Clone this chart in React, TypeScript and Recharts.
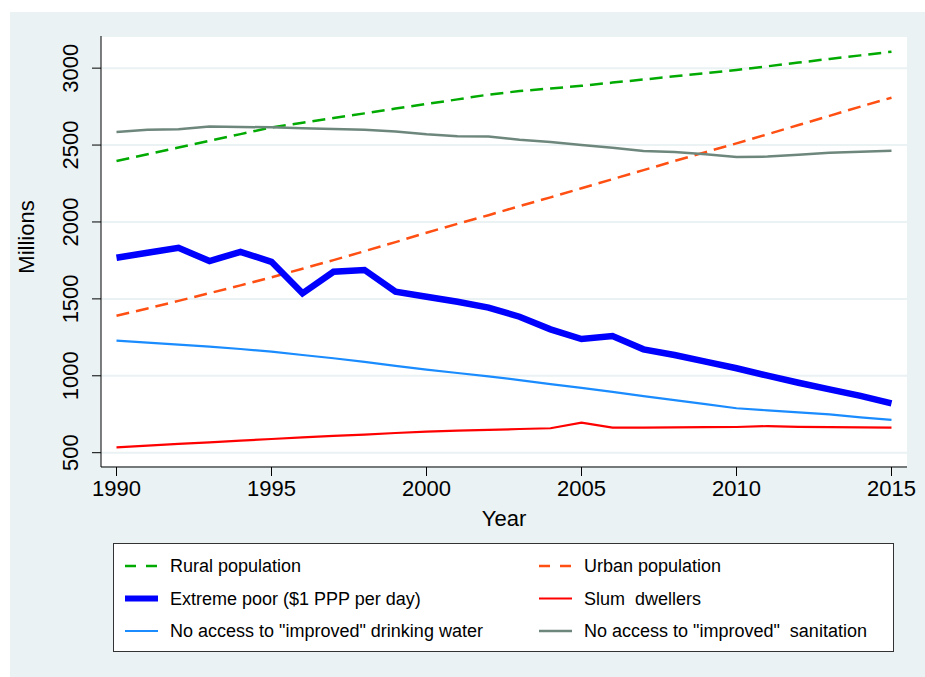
import React from 'react';
import { LineChart, Line, XAxis, YAxis, CartesianGrid, Legend } from 'recharts';

// values (millions of people)
const years = [
  1990, 1991, 1992, 1993, 1994, 1995, 1996, 1997, 1998, 1999, 2000, 2001, 2002,
  2003, 2004, 2005, 2006, 2007, 2008, 2009, 2010, 2011, 2012, 2013, 2014, 2015,
];
const rural = [
  2396, 2440, 2484, 2528, 2571, 2615, 2645, 2676, 2706, 2737, 2767, 2797, 2828,
  2851, 2868, 2885, 2906, 2926, 2947, 2967, 2988, 3012, 3036, 3060, 3083, 3107,
];
const urban = [
  1390, 1438, 1487, 1537, 1588, 1640, 1696, 1752, 1810, 1869, 1930, 1988, 2044,
  2103, 2160, 2219, 2278, 2337, 2396, 2454, 2511, 2570, 2630, 2690, 2750, 2808,
];
const extremePoor = [
  1767, 1800, 1832, 1746, 1806, 1741, 1536, 1676, 1688, 1547, 1514, 1481, 1443,
  1384, 1302, 1239, 1258, 1172, 1135, 1092, 1049, 1001, 955, 912, 869, 821,
];
const slum = [
  535, 546, 557, 567, 578, 589, 599, 609, 618, 628, 637, 643, 648,
  654, 659, 695, 663, 663, 665, 666, 667, 673, 668, 666, 665, 663,
];
const water = [
  1228, 1216, 1203, 1190, 1174, 1157, 1135, 1114, 1090, 1065, 1040, 1018, 996,
  972, 946, 922, 895, 868, 842, 816, 789, 775, 762, 749, 730, 713,
];
const sanitation = [
  2585, 2600, 2603, 2620, 2618, 2615, 2610, 2605, 2600, 2588, 2570, 2558, 2555,
  2535, 2520, 2500, 2483, 2462, 2455, 2440, 2422, 2425, 2437, 2450, 2457, 2463,
];

const xTicks = [1990, 1995, 2000, 2005, 2010, 2015];
const yTicks = [500, 1000, 1500, 2000, 2500, 3000];

const data = years.map((year, i) => ({
  year,
  rural: rural[i],
  urban: urban[i],
  extremePoor: extremePoor[i],
  slum: slum[i],
  water: water[i],
  sanitation: sanitation[i],
}));

const FONT = '"Liberation Sans", Arial, Helvetica, sans-serif';
const BG = '#eaf2f3';

const series = [
  { key: 'rural', name: 'Rural population', color: '#00aa00', width: 2.5, dash: '13 7' },
  { key: 'urban', name: 'Urban population', color: '#ff4f12', width: 2.5, dash: '13 7' },
  { key: 'extremePoor', name: 'Extreme poor ($1 PPP per day)', color: '#0000ff', width: 6.5, dash: undefined },
  { key: 'slum', name: 'Slum  dwellers', color: '#ff0000', width: 2.2, dash: undefined },
  { key: 'water', name: 'No access to "improved" drinking water', color: '#1a8cff', width: 2.2, dash: undefined },
  { key: 'sanitation', name: 'No access to "improved"  sanitation', color: '#6e877d', width: 2.5, dash: undefined },
];

const XTick = ({ x, y, payload }: any) => (
  <text x={x} y={y + 18} textAnchor="middle" fontSize={22} fontFamily={FONT} fill="#000">
    {payload.value}
  </text>
);

const YTick = ({ y, payload }: any) => (
  <text
    x={78}
    y={y}
    transform={`rotate(-90 78 ${y})`}
    textAnchor="middle"
    fontSize={22}
    fontFamily={FONT}
    fill="#000"
  >
    {payload.value}
  </text>
);

const LegendBox = () => (
  <svg width={781} height={109} style={{ display: 'block' }}>
    <rect x={0.5} y={0.5} width={780} height={108} fill="#fff" stroke="#333" strokeWidth={1} />
    {series.map((s, i) => {
      const col = i % 2;
      const row = Math.floor(i / 2);
      const cy = 23 + row * 32.5;
      const x0 = col === 0 ? 12 : 426;
      return (
        <g key={s.key}>
          <line
            x1={x0}
            x2={x0 + 33}
            y1={cy}
            y2={cy}
            stroke={s.color}
            strokeWidth={s.key === 'extremePoor' ? 6 : s.width}
            strokeDasharray={s.dash ? '11 10' : undefined}
          />
          <text
            x={x0 + 45}
            y={cy + 6}
            fontSize={18}
            fontFamily={FONT}
            fill="#000"
            style={{ whiteSpace: 'pre' }}
          >
            {s.name}
          </text>
        </g>
      );
    })}
  </svg>
);

export default function App() {
  return (
    <div style={{ position: 'absolute', left: 0, top: 0, width: 925, height: 677, background: '#fff' }}>
      <div style={{ position: 'absolute', left: 10, top: 12, width: 915, height: 665, background: BG }} />
      <div style={{ position: 'absolute', left: 0, top: 0 }}>
        <LineChart width={925} height={677} data={data} margin={{ top: 36, right: 18, bottom: 150, left: 21 }}>
          <CartesianGrid vertical={false} stroke={BG} strokeWidth={2} fill="#fff" />
          <XAxis
            dataKey="year"
            type="number"
            domain={[1989.5, 2015.5]}
            ticks={xTicks}
            interval={0}
            height={60}
            tickSize={9}
            tick={<XTick />}
            axisLine={{ stroke: '#000', strokeWidth: 1 }}
            tickLine={{ stroke: '#000', strokeWidth: 1 }}
            label={({ viewBox }: any) => (
              <text
                x={viewBox.x + viewBox.width / 2}
                y={526}
                textAnchor="middle"
                fontSize={22}
                fontFamily={FONT}
                fill="#000"
              >
                Year
              </text>
            )}
          />
          <YAxis
            type="number"
            domain={[407, 3209]}
            ticks={yTicks}
            interval={0}
            width={80}
            tickSize={9}
            tick={<YTick />}
            axisLine={{ stroke: '#000', strokeWidth: 1 }}
            tickLine={{ stroke: '#000', strokeWidth: 1 }}
            label={() => (
              <text
                x={34}
                y={237}
                transform="rotate(-90 34 237)"
                textAnchor="middle"
                fontSize={22}
                fontFamily={FONT}
                fill="#000"
              >
                Millions
              </text>
            )}
          />
          {series.map((s) => (
            <Line
              key={s.key}
              type="linear"
              dataKey={s.key}
              name={s.name}
              stroke={s.color}
              strokeWidth={s.width}
              strokeDasharray={s.dash}
              dot={false}
              activeDot={false}
              isAnimationActive={false}
            />
          ))}
          <Legend
            layout="horizontal"
            verticalAlign="middle"
            align="center"
            wrapperStyle={{ left: 113, top: 543, width: 781, height: 109 }}
            content={() => <LegendBox />}
          />
        </LineChart>
      </div>
    </div>
  );
}
